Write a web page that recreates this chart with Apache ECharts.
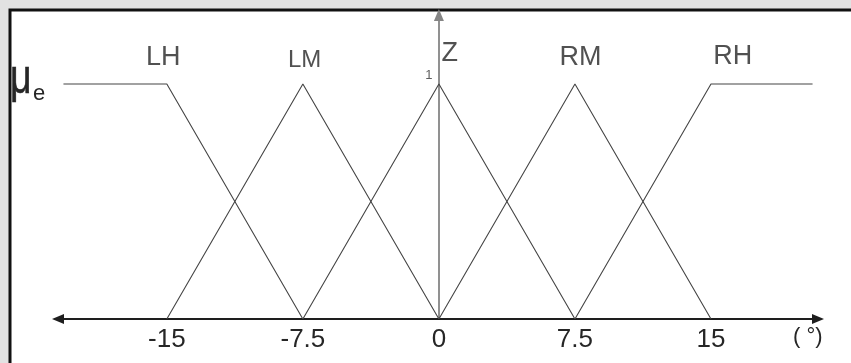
<!DOCTYPE html>
<html>
<head>
<meta charset="utf-8">
<script src="https://cdn.jsdelivr.net/npm/echarts@6/dist/echarts.min.js"></script>
<style>
  html, body { margin: 0; padding: 0; background: #e2e2e2; }
  #chart { width: 851px; height: 363px; }
</style>
</head>
<body>
<div id="chart"></div>
<script>
// Membership functions of the error angle e (degrees)
const xTicks = [-15, -7.5, 0, 7.5, 15];
const yTicks = [1];
const setNames = ['LH', 'LM', 'Z', 'RM', 'RH'];
const setLH = [[-20.7, 1], [-15, 1], [-7.5, 0]];
const setLM = [[-15, 0], [-7.5, 1], [0, 0]];
const setZ  = [[-7.5, 0], [0, 1], [7.5, 0]];
const setRM = [[0, 0], [7.5, 1], [15, 0]];
const setRH = [[7.5, 0], [15, 1], [20.6, 1]];
// where each set name sits above its peak
const nameX = [-15.2, -7.4, 0.6, 7.8, 16.2];
const nameY = [1.111, 1.10, 1.128, 1.113, 1.119];
const nameSize = [27, 24, 27, 27, 27];

const FONT = '"Liberation Sans", Arial, sans-serif';
const lineColor = '#444444';
const textColor = '#262626';

const chart = echarts.init(document.getElementById('chart'));

function mfSeries(name, data) {
  return {
    name: name,
    type: 'line',
    data: data,
    symbol: 'none',
    silent: true,
    lineStyle: { color: lineColor, width: 1.1 },
    z: 3
  };
}

chart.setOption({
  backgroundColor: '#e2e2e2',
  animation: false,
  grid: { left: 58, right: 33, top: 15, bottom: 44 },
  xAxis: {
    type: 'value',
    min: -21,
    max: 20.9,
    splitLine: { show: false },
    axisTick: { show: false },
    axisLine: {
      onZero: true,
      symbol: ['triangle', 'triangle'],
      symbolSize: [10, 12],
      lineStyle: { color: '#1e1e1e', width: 1.8 }
    },
    axisLabel: {
      customValues: xTicks,
      formatter: v => String(v),
      color: textColor,
      fontFamily: FONT,
      fontSize: 26,
      margin: 8
    }
  },
  yAxis: {
    type: 'value',
    min: 0,
    max: 1.294,
    splitLine: { show: false },
    axisTick: { show: false },
    axisLabel: { show: false },
    axisLine: {
      onZero: true,
      symbol: ['none', 'triangle'],
      symbolSize: [10, 12],
      lineStyle: { color: '#858585', width: 1.8 }
    }
  },
  graphic: [
    {
      type: 'rect',
      z: -10,
      silent: true,
      shape: { x: 10, y: 10, width: 900, height: 400 },
      style: { fill: '#ffffff', stroke: '#111111', lineWidth: 3 }
    },
    {
      type: 'text',
      silent: true,
      x: 10,
      y: 56,
      scaleX: 0.78,
      style: { text: 'μ', font: '48px ' + FONT, fill: textColor, stroke: textColor, lineWidth: 0.6, verticalAlign: 'top' }
    },
    {
      type: 'text',
      silent: true,
      x: 33,
      y: 83,
      style: { text: 'e', font: '22px ' + FONT, fill: textColor, verticalAlign: 'top' }
    },
    {
      type: 'text',
      silent: true,
      x: 793,
      y: 326,
      style: { text: '( °)', font: '22px ' + FONT, fill: textColor, verticalAlign: 'top' }
    }
  ],
  series: [
    mfSeries('LH', setLH),
    mfSeries('LM', setLM),
    mfSeries('Z', setZ),
    mfSeries('RM', setRM),
    mfSeries('RH', setRH),
    {
      // set names above the peaks
      type: 'scatter',
      silent: true,
      symbolSize: 1,
      itemStyle: { color: 'rgba(0,0,0,0)' },
      data: setNames.map((n, i) => ({
        name: n,
        value: [nameX[i], nameY[i]],
        label: { fontSize: nameSize[i] }
      })),
      label: {
        show: true,
        position: 'inside',
        formatter: p => p.name,
        color: textColor,
        fontFamily: FONT
      },
      z: 4
    },
    {
      // unit value tick on the vertical axis
      type: 'scatter',
      silent: true,
      symbolSize: 1,
      itemStyle: { color: 'rgba(0,0,0,0)' },
      data: yTicks.map(v => ({ name: String(v), value: [0, v] })),
      label: {
        show: true,
        position: 'left',
        distance: 6,
        offset: [0, -9],
        formatter: p => p.name,
        color: '#333',
        fontFamily: FONT,
        fontSize: 13
      },
      z: 4
    }
  ]
});
</script>
</body>
</html>
